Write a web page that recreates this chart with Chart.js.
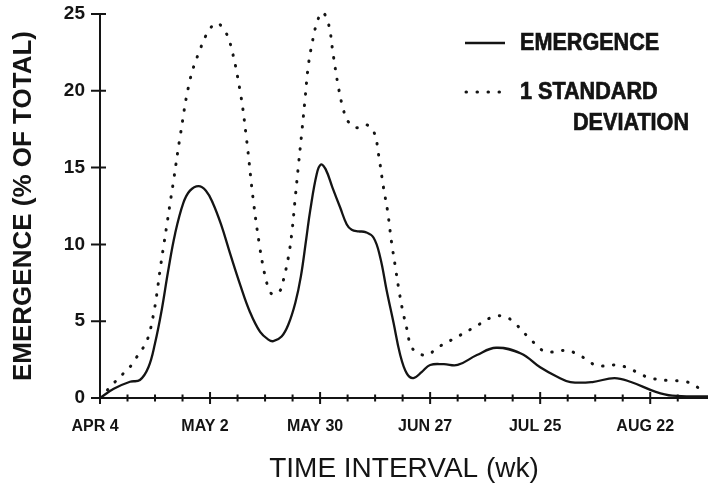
<!DOCTYPE html>
<html>
<head>
<meta charset="utf-8">
<script src="https://cdn.jsdelivr.net/npm/chart.js@4.4.0/dist/chart.umd.min.js"></script>
<style>
    html, body { margin: 0; padding: 0; background: #fff; }
    #wrap { width: 708px; height: 490px; }
</style>
</head>
<body>
<div id="wrap"><canvas id="myChart" width="708" height="490"></canvas></div>
<script>
// x = weeks after APR 4
const tickLabels = ['APR 4', 'MAY 2', 'MAY 30', 'JUN 27', 'JUL 25', 'AUG 22'];

const emWeeks = [0, 0.5, 1.09, 1.45, 1.76, 2.0, 2.24, 2.48, 2.73, 3.03, 3.27, 3.58, 3.85, 4.1, 4.4, 4.73, 5.09, 5.45, 5.82, 6.12,
    6.3, 6.6, 6.85, 7.1, 7.3, 7.5, 7.64, 7.88, 8.03, 8.2, 8.45, 8.73, 8.97, 9.15, 9.4, 9.65, 9.94, 10.18, 10.42, 10.67,
    10.9, 11.15, 11.39, 11.7, 12.0, 12.5, 13.0, 13.7, 14.4, 15.3, 16.0, 16.6, 17.1, 17.9, 18.7, 19.3, 20.2, 20.8, 22.1];
const emValues = [0, 0.6, 1.06, 1.17, 2.0, 3.56, 5.7, 8.3, 10.7, 12.7, 13.5, 13.8, 13.5, 12.7, 11.3, 9.4, 7.4, 5.6, 4.3, 3.8,
    3.7, 4.0, 4.8, 6.2, 7.9, 10.4, 12.2, 14.6, 15.2, 14.9, 13.7, 12.4, 11.3, 10.95, 10.85, 10.8, 10.45, 9.2, 7.0, 4.9,
    2.9, 1.6, 1.3, 1.7, 2.15, 2.2, 2.15, 2.8, 3.27, 2.9, 2.0, 1.4, 1.04, 1.04, 1.3, 1.04, 0.4, 0.15, 0.1];

const sdWeeks = [0, 0.55, 0.85, 1.15, 1.33, 1.58, 1.76, 1.94, 2.06, 2.18, 2.3, 2.42, 2.55, 2.67, 2.91, 3.27, 3.64, 3.95, 4.24, 4.5,
    4.73, 5.1, 5.33, 5.57, 5.8, 5.98, 6.1, 6.27, 6.55, 6.67, 6.85, 6.97, 7.09, 7.21, 7.33, 7.45, 7.57, 7.7, 7.88, 8.08,
    8.3, 8.48, 8.67, 8.85, 9.0, 9.3, 9.67, 9.96, 10.12, 10.3, 10.45, 10.6, 10.73, 10.85, 11.0, 11.18, 11.27, 11.48, 11.9, 12.24,
    12.9, 13.6, 14.3, 14.7, 15.0, 15.6, 15.9, 16.2, 16.97, 17.3, 17.7, 18.06, 18.8, 19.2, 19.6, 20.0, 20.7, 21.2, 21.6, 21.9];
const sdValues = [0, 1.06, 1.6, 2.15, 2.65, 3.3, 4.0, 5.4, 6.7, 8.3, 9.75, 11.15, 12.7, 14.1, 17.0, 20.7, 22.7, 23.9, 24.4, 24.0,
    23.1, 19.9, 16.8, 12.9, 9.9, 8.1, 7.3, 6.75, 7.0, 7.7, 9.2, 10.7, 12.9, 15.1, 17.2, 19.4, 21.6, 23.0, 24.4, 25.1,
    24.4, 22.3, 20.2, 18.75, 18.05, 17.6, 17.8, 17.3, 15.9, 13.75, 12.2, 10.1, 8.6, 7.2, 5.7, 4.3, 3.55, 3.0, 2.8, 3.25,
    3.9, 4.6, 5.3, 5.3, 5.0, 3.9, 3.4, 3.0, 3.1, 2.9, 2.5, 2.1, 2.15, 1.95, 1.6, 1.3, 1.13, 1.1, 0.85, 0.4];

const ink = '#141414';
const dotDash = [0.5, 10.5];

function toPoints(xs, ys) {
    return xs.map((x, i) => ({ x: x, y: ys[i] }));
}

// ticks that cross the axis lines
const crossTicks = {
    id: 'crossTicks',
    afterDraw(chart) {
        const { ctx, scales: { x, y } } = chart;
        ctx.save();
        ctx.strokeStyle = ink;
        ctx.lineWidth = 2;
        ctx.beginPath();
        x.ticks.forEach(t => {
            if (t.value > 21.5) return;
            let px = x.getPixelForValue(t.value);
            let major = t.value % 4 === 0;
            ctx.moveTo(px, x.top - (major ? 6 : 3.5));
            ctx.lineTo(px, x.top + (major ? 6 : 3.5));
        });
        y.ticks.forEach(t => {
            let py = y.getPixelForValue(t.value);
            ctx.moveTo(y.right - 9, py);
            ctx.lineTo(y.right + 6, py);
        });
        ctx.stroke();
        ctx.restore();
    }
};

// legend in the top right corner, text a bit condensed like the original
const cornerLegend = {
    id: 'cornerLegend',
    afterDraw(chart) {
        const ctx = chart.ctx;
        ctx.save();
        ctx.strokeStyle = ink;
        ctx.lineWidth = 2.4;
        ctx.beginPath();
        ctx.moveTo(465, 43);
        ctx.lineTo(505, 43);
        ctx.stroke();

        ctx.lineWidth = 3;
        ctx.lineCap = 'round';
        ctx.setLineDash(dotDash);
        ctx.beginPath();
        ctx.moveTo(466, 92);
        ctx.lineTo(506, 92);
        ctx.stroke();
        ctx.setLineDash([]);

        ctx.fillStyle = ink;
        ctx.lineWidth = 0.7;
        ctx.font = 'bold 24px "Liberation Sans", Arial, sans-serif';
        ctx.textBaseline = 'middle';
        [['EMERGENCE', 520, 43], ['1 STANDARD', 520, 92], ['DEVIATION', 573, 123]].forEach(r => {
            ctx.save();
            ctx.translate(r[1], r[2]);
            ctx.scale(0.9, 1);
            ctx.fillText(r[0], 0, 0);
            ctx.strokeText(r[0], 0, 0);
            ctx.restore();
        });
        ctx.restore();
    }
};

let ctx = document.getElementById('myChart').getContext('2d');

let chart = new Chart(ctx, {
    type: 'line',
    data: {
        datasets: [{
            label: 'EMERGENCE',
            data: toPoints(emWeeks, emValues),
            borderColor: ink,
            borderWidth: 2.3,
            pointRadius: 0,
            tension: 0.4,
            clip: 6
        }, {
            label: '1 STANDARD DEVIATION',
            data: toPoints(sdWeeks, sdValues),
            borderColor: ink,
            borderWidth: 3,
            borderDash: dotDash,
            borderCapStyle: 'round',
            pointRadius: 0,
            tension: 0.4,
            clip: 6
        }]
    },
    options: {
        responsive: false,
        animation: false,
        devicePixelRatio: 1,
        layout: { padding: { top: 14, right: 0, bottom: 0, left: 0 } },
        plugins: {
            legend: { display: false },
            tooltip: { enabled: false }
        },
        scales: {
            x: {
                type: 'linear',
                min: 0,
                max: 22.1,
                afterFit: function (scale) {
                    scale.height = 92;
                    scale.paddingLeft = 0;
                    scale.paddingRight = 0;
                },
                grid: { display: false, drawTicks: false },
                border: { display: true, color: ink, width: 2 },
                ticks: {
                    stepSize: 1,
                    autoSkip: false,
                    maxRotation: 0,
                    includeBounds: false,
                    padding: 19,
                    labelOffset: -5,
                    color: ink,
                    font: { family: '"Liberation Sans", Arial, sans-serif', size: 16, weight: 'bold' },
                    callback: function (value) {
                        if (value % 4 === 0 && value / 4 < tickLabels.length) return tickLabels[value / 4];
                        return '';
                    }
                },
                title: {
                    display: true,
                    text: 'TIME INTERVAL (wk)',
                    color: ink,
                    font: { family: '"Liberation Sans", Arial, sans-serif', size: 28, weight: 'normal' },
                    padding: { top: 0, bottom: 4 }
                }
            },
            y: {
                min: 0,
                max: 25,
                afterFit: function (scale) {
                    scale.width = 100;
                    scale.paddingTop = 0;
                    scale.paddingBottom = 0;
                },
                grid: { display: false, drawTicks: false },
                border: { display: true, color: ink, width: 2 },
                ticks: {
                    stepSize: 5,
                    padding: 15,
                    color: ink,
                    font: { family: '"Liberation Sans", Arial, sans-serif', size: 19, weight: 'bold' }
                },
                title: {
                    display: true,
                    text: 'EMERGENCE (% OF TOTAL)',
                    color: ink,
                    font: { family: '"Liberation Sans", Arial, sans-serif', size: 26, weight: 'bold' },
                    padding: { top: 8, bottom: 0 }
                }
            }
        }
    },
    plugins: [crossTicks, cornerLegend]
});
</script>
</body>
</html>
